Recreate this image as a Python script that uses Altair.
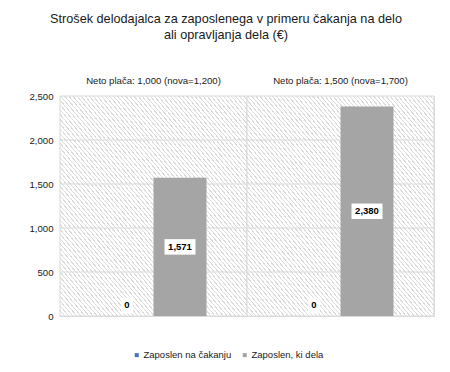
import altair as alt
import pandas as pd

groups = ["Neto plača: 1,000 (nova=1,200)", "Neto plača: 1,500 (nova=1,700)"]
series = ["Zaposlen na čakanju", "Zaposlen, ki dela"]
waiting = [0, 0]
working = [1571, 2380]
y_ticks = [0, 500, 1000, 1500, 2000, 2500]
grid_vals = [500, 1000, 1500, 2000]
colors = ["#4472C4", "#A5A5A5"]

rows = []
for g, a, b in zip(groups, waiting, working):
    rows.append({"group": g, "series": series[0], "value": a})
    rows.append({"group": g, "series": series[1], "value": b})
df = pd.DataFrame(rows)
bg_df = pd.DataFrame({"group": groups})
grid_df = pd.DataFrame({"v": grid_vals})

FONT = "Liberation Sans"
W, H = 374, 220

# hatch pattern as a striped linear gradient
N = 92
stops = []
for k in range(N):
    o0 = k / N
    o1 = (k + 0.3) / N
    o2 = (k + 1) / N
    stops += [
        alt.GradientStop(offset=o0, color="#dcdcdc"),
        alt.GradientStop(offset=o1, color="#dcdcdc"),
        alt.GradientStop(offset=o1, color="#ffffff"),
        alt.GradientStop(offset=min(o2, 1.0), color="#ffffff"),
    ]
hatch = alt.LinearGradient(gradient="linear", stops=stops, x1=0, y1=1, x2=1, y2=0)

x_enc = alt.X(
    "group:N",
    sort=groups,
    scale=alt.Scale(paddingInner=0, paddingOuter=0),
    axis=alt.Axis(
        orient="top", title=None, labelAngle=0, ticks=False, tickSize=0,
        domain=False, grid=False, labelPadding=11, labelFontSize=9.6,
        labelFont=FONT, labelColor="#1a1a1a",
    ),
)
y_scale = alt.Scale(domain=[0, 2500], nice=False)
y_axis = alt.Axis(
    values=y_ticks, labelExpr="format(datum.value, ',')", title=None,
    ticks=False, domain=False, grid=False, labelPadding=7, labelFontSize=9.6,
    labelFont=FONT, labelColor="#1a1a1a",
)

bg = alt.Chart(bg_df).mark_rect(fill=hatch, stroke="#d9d9d9", strokeWidth=1).encode(
    x=x_enc,
    y=alt.Y(datum=0, scale=y_scale, axis=y_axis),
    y2=alt.datum(2500),
)

grid = alt.Chart(grid_df).mark_rule(color="#d9d9d9", strokeWidth=1).encode(
    y=alt.Y("v:Q", scale=y_scale, axis=y_axis)
)

xoff = alt.XOffset("series:N", sort=series,
                   scale=alt.Scale(paddingOuter=0.764, paddingInner=0))

bars = alt.Chart(df).mark_bar().encode(
    x=alt.X("group:N", sort=groups),
    xOffset=xoff,
    y=alt.Y("value:Q", scale=y_scale, axis=y_axis),
    color=alt.Color(
        "series:N", sort=series,
        scale=alt.Scale(domain=series, range=colors),
        legend=alt.Legend(
            title=None, orient="none", legendX=72, legendY=254,
            direction="horizontal", symbolType="square", symbolSize=16,
            labelFontSize=9.5, labelFont=FONT, labelColor="#1a1a1a",
            columnPadding=8, labelOffset=2, padding=0,
        ),
    ),
)

base_lab = alt.Chart(df).transform_calculate(
    pos="max(datum.value / 2, 120)",
    lab="format(datum.value, ',')",
    box="datum.value == 0 ? 'M-0.38,-0.5H0.38V0.5H-0.38Z' : 'M-1,-0.5H1V0.5H-1Z'",
)

boxes = base_lab.mark_point(filled=True, fill="white", opacity=1, strokeWidth=0, size=961).encode(
    x=alt.X("group:N", sort=groups),
    xOffset=xoff,
    y=alt.Y("pos:Q", scale=y_scale, axis=y_axis),
    shape=alt.Shape("box:N", scale=None, legend=None),
)

texts = base_lab.mark_text(fontSize=9.5, fontWeight="bold", font=FONT, color="#000000").encode(
    x=alt.X("group:N", sort=groups),
    xOffset=xoff,
    y=alt.Y("pos:Q", scale=y_scale, axis=y_axis),
    text="lab:N",
)

chart = alt.layer(bg, grid, bars, boxes, texts).properties(
    width=W,
    height=H,
    title=alt.TitleParams(
        text=["Strošek delodajalca za zaposlenega v primeru čakanja na delo",
              "ali opravljanja dela (€)"],
        fontSize=12.7, fontWeight="normal", font=FONT, color="#1a1a1a",
        anchor="middle", dx=-21, offset=33, lineHeight=16,
    ),
    autosize=alt.AutoSizeParams(type="none"),
    padding={"left": 52, "top": 88, "right": 8, "bottom": 48},
).configure_view(stroke=None).configure(background="white")

chart.save("out.html", embed_options={"renderer": "svg", "actions": False})
